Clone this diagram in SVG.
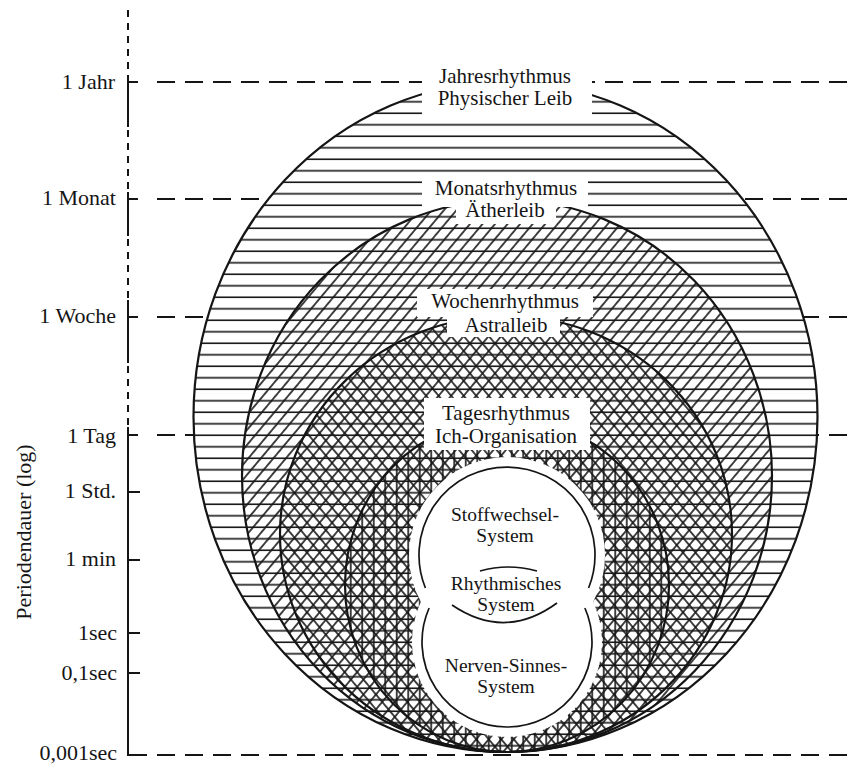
<svg xmlns="http://www.w3.org/2000/svg" width="852" height="764" viewBox="0 0 852 764">
<style>
  text { font-family: "Liberation Serif", "DejaVu Serif", serif; fill: #151515; }
  .ax { font-size: 22px; text-anchor: end; }
  .lb { font-size: 21px; text-anchor: middle; }
  .in { font-size: 19.5px; text-anchor: middle; }
  .axis { stroke: #151515; stroke-width: 2; fill: none; }
  .vdash { stroke: #151515; stroke-width: 2; fill: none; stroke-dasharray: 7 6; }
  .dash { stroke: #151515; stroke-width: 2; fill: none; stroke-dasharray: 18 10; }
  .outline { fill: none; stroke: #151515; stroke-width: 2.2; }
  .thin { fill: none; stroke: #151515; stroke-width: 1.7; }
  .hl { stroke: #151515; stroke-width: 1.6; }
  .box { fill: #ffffff; }
</style>
<defs>
  <pattern id="pH" patternUnits="userSpaceOnUse" width="20" height="11.5">
    <line x1="0" y1="9.8" x2="20" y2="9.8" class="hl"/>
  </pattern>
  <pattern id="pD1" patternUnits="userSpaceOnUse" width="20" height="9.6" patternTransform="rotate(-50)">
    <line x1="0" y1="4.8" x2="20" y2="4.8" class="hl"/>
  </pattern>
  <pattern id="pD2" patternUnits="userSpaceOnUse" width="20" height="9.6" patternTransform="rotate(50)">
    <line x1="0" y1="4.8" x2="20" y2="4.8" class="hl"/>
  </pattern>
  <pattern id="pV" patternUnits="userSpaceOnUse" width="11.5" height="20">
    <line x1="5.75" y1="0" x2="5.75" y2="20" class="hl"/>
  </pattern>
</defs>

<g id="axis">
  <line class="vdash" x1="128" y1="10" x2="128" y2="78"/>
  <line class="axis" x1="128" y1="78" x2="128" y2="127"/>
  <line class="vdash" x1="128" y1="130" x2="128" y2="192"/>
  <line class="axis" x1="128" y1="192" x2="128" y2="236"/>
  <line class="vdash" x1="128" y1="239" x2="128" y2="300"/>
  <line class="axis" x1="128" y1="300" x2="128" y2="363"/>
  <line class="vdash" x1="128" y1="366" x2="128" y2="427"/>
  <line class="axis" x1="128" y1="427" x2="128" y2="756"/>
  <g id="ticks">
    <line class="axis" x1="128" y1="82" x2="138" y2="82"/>
    <line class="axis" x1="128" y1="199" x2="138" y2="199"/>
    <line class="axis" x1="128" y1="317" x2="138" y2="317"/>
    <line class="axis" x1="128" y1="435" x2="138" y2="435"/>
    <line class="axis" x1="128" y1="492" x2="140" y2="492"/>
    <line class="axis" x1="128" y1="560" x2="140" y2="560"/>
    <line class="axis" x1="128" y1="633" x2="140" y2="633"/>
    <line class="axis" x1="128" y1="673" x2="140" y2="673"/>
    <line class="axis" x1="128" y1="755" x2="147" y2="755"/>
  </g>
  <g id="gridlines">
    <line class="dash" x1="157" y1="82" x2="852" y2="82"/>
    <line class="dash" x1="157" y1="199" x2="852" y2="199"/>
    <line class="dash" x1="157" y1="317" x2="852" y2="317"/>
    <line class="dash" x1="157" y1="435" x2="852" y2="435"/>
    <line class="dash" x1="157" y1="755" x2="852" y2="755"/>
  </g>
  <g id="axis-labels">
    <text class="ax" x="115" y="89">1 Jahr</text>
    <text class="ax" x="116" y="205">1 Monat</text>
    <text class="ax" x="116" y="323">1 Woche</text>
    <text class="ax" x="116" y="443">1 Tag</text>
    <text class="ax" x="116" y="498">1 Std.</text>
    <text class="ax" x="116" y="566">1 min</text>
    <text class="ax" x="117" y="640">1sec</text>
    <text class="ax" x="117" y="680">0,1sec</text>
    <text class="ax" x="117" y="760">0,001sec</text>
    <text class="ax" style="text-anchor:middle" transform="translate(31,532) rotate(-90)">Periodendauer (log)</text>
  </g>
</g>

<g id="ring-jahr">
  <ellipse cx="505.5" cy="417" rx="312" ry="335" fill="#ffffff"/>
  <ellipse cx="505.5" cy="417" rx="312" ry="335" fill="url(#pH)"/>
</g>
<g id="ring-monat">
  <ellipse cx="507" cy="476" rx="265" ry="276" fill="url(#pD1)"/>
</g>
<g id="ring-woche">
  <ellipse cx="506" cy="534" rx="226" ry="218" fill="url(#pD2)"/>
</g>
<g id="ring-tag">
  <ellipse cx="507" cy="585" rx="162" ry="167" fill="url(#pV)"/>
</g>
<g id="ring-outlines">
  <ellipse class="outline" cx="505.5" cy="417" rx="312" ry="335"/>
  <ellipse class="outline" cx="507" cy="476" rx="265" ry="276"/>
  <ellipse class="outline" cx="506" cy="534" rx="226" ry="218"/>
  <ellipse class="outline" cx="507" cy="585" rx="162" ry="167"/>
</g>

<g id="figure-eight">
  <circle cx="507" cy="555" r="98" fill="#ffffff"/>
  <circle cx="507" cy="642" r="95" fill="#ffffff"/>
  <path class="thin" d="M 425.4 588 A 88 88 0 1 1 588.6 588"/>
  <path class="thin" d="M 429.1 608 A 85 85 0 1 0 584.9 608"/>
  <path class="thin" d="M 480 571 Q 508 563 537 571"/>
  <path class="thin" d="M 452 605 Q 505 641 557 603"/>
  <text class="in" x="505" y="521">Stoffwechsel-</text>
  <text class="in" x="505" y="542">System</text>
  <text class="in" x="506" y="590">Rhythmisches</text>
  <text class="in" x="506" y="611">System</text>
  <text class="in" x="506" y="672">Nerven-Sinnes-</text>
  <text class="in" x="506" y="693">System</text>
</g>

<g id="label-jahr">
  <rect class="box" x="422" y="64" width="170" height="52"/>
  <text class="lb" x="505" y="83">Jahresrhythmus</text>
  <text class="lb" x="505" y="105">Physischer Leib</text>
</g>
<g id="label-monat">
  <rect class="box" x="422" y="174" width="166" height="33"/>
  <rect class="box" x="456" y="206" width="100" height="18"/>
  <text class="lb" x="506" y="195">Monatsrhythmus</text>
  <text class="lb" x="505" y="217">Ätherleib</text>
</g>
<g id="label-woche">
  <rect class="box" x="417" y="289" width="176" height="28"/>
  <rect class="box" x="447" y="316" width="113" height="21"/>
  <text class="lb" x="505" y="308">Wochenrhythmus</text>
  <text class="lb" x="506" y="332">Astralleib</text>
</g>
<g id="label-tag">
  <rect class="box" x="424" y="398" width="166" height="52"/>
  <text class="lb" x="506" y="420">Tagesrhythmus</text>
  <text class="lb" x="506" y="443">Ich-Organisation</text>
</g>
</svg>
